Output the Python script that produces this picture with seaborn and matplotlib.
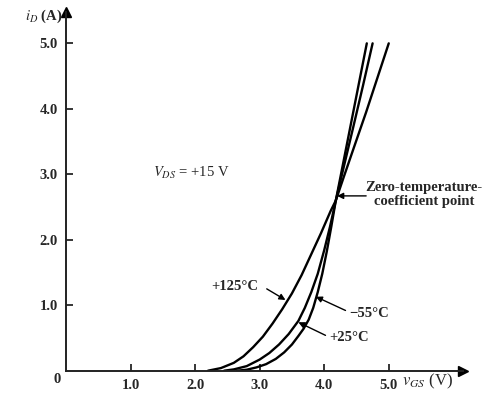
import numpy as np
import pandas as pd
import matplotlib
matplotlib.use("Agg")
import matplotlib.pyplot as plt
import seaborn as sns

# transfer characteristic, iD (A) vs vGS (V)
vgs_m55 = [2.65, 2.8, 2.95, 3.1, 3.25, 3.38, 3.5, 3.6, 3.68, 3.76, 3.83, 3.9, 3.97,
           4.04, 4.11, 4.18, 4.3, 4.42, 4.54, 4.66]
id_m55 = [0.0, 0.015, 0.05, 0.1, 0.18, 0.28, 0.4, 0.53, 0.64, 0.78, 0.96, 1.2, 1.48,
          1.82, 2.2, 2.6, 3.2, 3.8, 4.4, 5.0]

vgs_25 = [2.45, 2.6, 2.8, 3.0, 3.15, 3.3, 3.45, 3.6, 3.7, 3.8, 3.9, 4.0, 4.09,
          4.18, 4.3, 4.45, 4.6, 4.75]
id_25 = [0.0, 0.02, 0.07, 0.17, 0.27, 0.4, 0.56, 0.76, 0.96, 1.2, 1.48, 1.84, 2.2,
         2.6, 3.1, 3.72, 4.35, 5.0]

vgs_125 = [2.2, 2.4, 2.6, 2.75, 2.9, 3.05, 3.2, 3.35, 3.5, 3.65, 3.8, 3.95, 4.1,
           4.18, 4.3, 4.45, 4.65, 4.85, 5.0]
id_125 = [0.0, 0.04, 0.12, 0.22, 0.36, 0.52, 0.72, 0.94, 1.18, 1.46, 1.78, 2.1, 2.44,
          2.6, 2.95, 3.38, 3.95, 4.55, 5.0]

ticks = [1.0, 2.0, 3.0, 4.0, 5.0]
tick_labels = ["1.0", "2.0", "3.0", "4.0", "5.0"]

df = pd.concat([
    pd.DataFrame({"vGS": vgs_m55, "iD": id_m55, "T": "-55"}),
    pd.DataFrame({"vGS": vgs_25, "iD": id_25, "T": "+25"}),
    pd.DataFrame({"vGS": vgs_125, "iD": id_125, "T": "+125"}),
])

sns.set_style("ticks")
plt.rcParams["font.family"] = ["Liberation Serif", "DejaVu Serif"]
plt.rcParams["mathtext.fontset"] = "stix"

fig = plt.figure(figsize=(4.94, 3.96), dpi=100)
ax = fig.add_axes([0.1336, 0.0639, 0.8036, 0.906])

sns.lineplot(data=df, x="vGS", y="iD", hue="T", units="T", estimator=None,
             palette=["black"] * 3, lw=1.7, legend=False, sort=False, ax=ax)

ax.set_xlim(0, 6.15)
ax.set_ylim(0, 5.48)
sns.despine(ax=ax)
for s in ["left", "bottom"]:
    ax.spines[s].set_linewidth(1.4)
    ax.spines[s].set_color("#222222")
ax.plot(1, 0, ">k", ms=7, transform=ax.transAxes, clip_on=False)
ax.plot(0, 1, "^k", ms=7, transform=ax.transAxes, clip_on=False)

ax.set_xticks(ticks)
ax.set_xticklabels(tick_labels)
ax.set_yticks(ticks)
ax.set_yticklabels(tick_labels)
ax.tick_params(direction="in", length=5, width=1.3, labelsize=10.5, pad=6)
for lab in ax.get_xticklabels() + ax.get_yticklabels():
    lab.set_fontweight("bold")
ax.set_xlabel("")
ax.set_ylabel("")

ax.text(-0.14, -0.14, "0", ha="center", va="center", fontsize=10.5, fontweight="bold")
ax.text(-0.05, 5.42, r"$i_D$ (A)", ha="right", va="center", fontsize=10.5, fontweight="bold", clip_on=False)
ax.text(5.2, -0.17, r"$v_{GS}$ (V)", ha="left", va="center", fontsize=12, clip_on=False)
ax.text(1.94, 3.02, r"$V_{DS}$ = +15 V", ha="center", va="center", fontsize=10.5)

ax.text(5.55, 2.69, "Zero-temperature-\ncoefficient point", ha="center", va="center",
        fontsize=10.5, fontweight="bold", linespacing=1.15)

arr = dict(arrowstyle="-|>", color="black", lw=1.0, mutation_scale=9, shrinkA=0, shrinkB=0)
ax.annotate("", xy=(4.2, 2.67), xytext=(4.65, 2.67), arrowprops=arr)

ax.text(2.62, 1.29, "+125°C", ha="center", va="center", fontsize=10.5, fontweight="bold")
ax.annotate("", xy=(3.4, 1.08), xytext=(3.11, 1.25), arrowprops=arr)
ax.text(4.7, 0.88, "\u221255°C", ha="center", va="center", fontsize=10.5, fontweight="bold")
ax.annotate("", xy=(3.87, 1.13), xytext=(4.33, 0.92), arrowprops=arr)
ax.text(4.39, 0.51, "+25°C", ha="center", va="center", fontsize=10.5, fontweight="bold")
ax.annotate("", xy=(3.6, 0.74), xytext=(4.02, 0.54), arrowprops=arr)

fig.savefig("out.png", dpi=100)
